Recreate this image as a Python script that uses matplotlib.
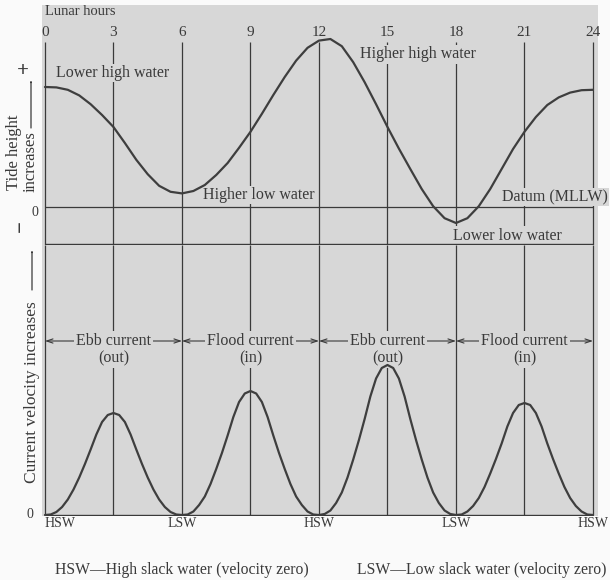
import matplotlib
matplotlib.use('Agg')
import matplotlib.pyplot as plt
from matplotlib.patches import FancyArrowPatch
import numpy as np

# lunar hours: half-hour grid for the tide, quarter-hour grid for the current
tide_hours = np.arange(0, 24.5, 0.5)
current_hours = np.arange(0, 24.25, 0.25)

# tide height above datum (MLLW), every half hour
tide_height = [3.00, 2.99, 2.93, 2.79, 2.57, 2.30, 2.00, 1.60, 1.18, 0.82,
               0.53, 0.38, 0.34, 0.40, 0.55, 0.80, 1.10, 1.48, 1.88, 2.33,
               2.80, 3.25, 3.66, 3.98, 4.16, 4.20, 4.02, 3.62, 3.12, 2.57,
               2.00, 1.46, 0.95, 0.45, 0.02, -0.28, -0.40, -0.28, 0.02, 0.45,
               0.95, 1.45, 1.88, 2.25, 2.55, 2.74, 2.86, 2.92, 2.93]

# current speed (no direction), every quarter hour
current_speed = [
    # ebb, hours 0-6
    0.00, 0.01, 0.06, 0.16, 0.31, 0.51, 0.75, 1.02, 1.31, 1.61, 1.86, 2.00, 2.04,
    2.00, 1.86, 1.61, 1.31, 1.02, 0.75, 0.51, 0.31, 0.16, 0.06, 0.01, 0.00,
    # flood, hours 6-12
    0.01, 0.07, 0.20, 0.37, 0.62, 0.92, 1.24, 1.59, 1.96, 2.26, 2.43, 2.48,
    2.43, 2.26, 1.96, 1.59, 1.24, 0.92, 0.62, 0.37, 0.20, 0.07, 0.01, 0.00,
    # ebb, hours 12-18
    0.02, 0.09, 0.24, 0.45, 0.75, 1.11, 1.50, 1.92, 2.37, 2.73, 2.94, 3.00,
    2.94, 2.73, 2.37, 1.92, 1.50, 1.11, 0.75, 0.45, 0.24, 0.09, 0.02, 0.00,
    # flood, hours 18-24
    0.01, 0.07, 0.18, 0.34, 0.56, 0.83, 1.12, 1.43, 1.77, 2.04, 2.20, 2.24,
    2.20, 2.04, 1.77, 1.43, 1.12, 0.83, 0.56, 0.34, 0.18, 0.07, 0.01, 0.00,
]

hour_ticks = [0, 3, 6, 9, 12, 15, 18, 21, 24]
slack_hours = [0, 6, 12, 18, 24]
slack_labels = ['HSW', 'LSW', 'HSW', 'LSW', 'HSW']
phase_names = ['Ebb current', 'Flood current', 'Ebb current', 'Flood current']
phase_dirs = ['(out)', '(in)', '(out)', '(in)']

W, H = 610, 580
BG = '#d7d7d7'
INK = '#3a3a3a'
plt.rcParams['font.family'] = 'Liberation Serif'

fig = plt.figure(figsize=(6.1, 5.8), dpi=100)
fig.patch.set_facecolor('#fafafa')


def fx(px):
    return px / W


def fy(py):
    return 1 - py / H


ax_top = fig.add_axes([fx(42), fy(245), 556 / W, 240 / H])
ax_bot = fig.add_axes([fx(42), fy(516), 556 / W, 271 / H])
for ax in (ax_top, ax_bot):
    ax.set_facecolor(BG)
    ax.set_xticks([])
    ax.set_yticks([])
    for s in ax.spines.values():
        s.set_visible(False)
    ax.set_xlim(-0.13, 24.22)

ax_top.set_ylim(-0.95, 5.05)
ax_bot.set_ylim(-0.02, 5.4)

curve_kw = dict(color='#3e3e3e', lw=1.6, zorder=4, solid_joinstyle='round',
                solid_capstyle='round')

# === tide panel ===
ax_top.vlines(hour_ticks, -0.95, 4.12, color=INK, lw=0.9, zorder=1)
ax_top.hlines([0], 0, 24, color=INK, lw=0.9, zorder=3)
ax_top.hlines([-0.93], 0, 24, color=INK, lw=1.0, zorder=3)
ax_top.plot(tide_hours, tide_height, **curve_kw)

for h in hour_ticks:
    ax_top.text(h, 4.35, str(h), ha='center', va='center', fontsize=11, color=INK)
ax_top.text(0, 4.88, 'Lunar hours', ha='left', va='center', fontsize=10.5, color=INK)

box = dict(facecolor=BG, edgecolor='none', pad=1.0)
label_kw = dict(fontsize=11.5, color=INK, va='center', ha='left', zorder=2, bbox=box)
ax_top.text(0.5, 3.35, 'Lower high water', **label_kw)
ax_top.text(13.8, 3.82, 'Higher high water', **label_kw)
ax_top.text(6.9, 0.30, 'Higher low water', **label_kw)
ax_top.text(20.0, 0.25, 'Datum (MLLW)', clip_on=False, **label_kw)
ax_top.text(17.85, -0.72, 'Lower low water', **label_kw)

# === current panel ===
ax_bot.vlines(hour_ticks, 0, 5.4, color=INK, lw=0.9, zorder=1)
ax_bot.hlines([0], 0, 24, color=INK, lw=1.0, zorder=3)
ax_bot.plot(current_hours, current_speed, **curve_kw)

for i, (name, direction) in enumerate(zip(phase_names, phase_dirs)):
    x0, x1 = slack_hours[i], slack_hours[i + 1]
    ax_bot.annotate('', xy=(x0, 3.48), xytext=(x1, 3.48),
                    arrowprops=dict(arrowstyle='<->,head_length=0.45,head_width=0.15',
                                    color=INK, lw=0.8, shrinkA=0, shrinkB=0),
                    zorder=2)
    mid = (x0 + x1) / 2
    ax_bot.text(mid, 3.48, name, ha='center', va='center', fontsize=11.5, color=INK,
                zorder=2.5, bbox=dict(facecolor=BG, edgecolor='none', pad=1.5))
    ax_bot.text(mid, 3.13, direction, ha='center', va='center', fontsize=11.5, color=INK,
                zorder=2.5, bbox=dict(facecolor=BG, edgecolor='none', pad=1.0))

for h, lab in zip(slack_hours, slack_labels):
    ha = 'left' if h == 0 else 'center'
    ax_bot.text(h, -0.17, lab, ha=ha, va='center', fontsize=10, color=INK, clip_on=False)

# === left side labels ===
fig.text(fx(23), fy(71), '+', ha='center', va='center', fontsize=15, color=INK,
         fontweight='bold')
fig.text(fx(21), fy(226), '\u2212', ha='center', va='center', fontsize=15, color=INK,
         rotation=90, fontweight='bold')
fig.text(fx(14), fy(152), 'Tide height', rotation=90, ha='center', va='center',
         fontsize=12, color=INK)
fig.text(fx(31), fy(162), 'increases', rotation=90, ha='center', va='center',
         fontsize=12, color=INK)
fig.text(fx(35), fy(213), '0', ha='center', va='center', fontsize=10, color=INK)
fig.text(fx(32), fy(392), 'Current velocity increases', rotation=90, ha='center',
         va='center', fontsize=12.5, color=INK)
fig.text(fx(30), fy(515), '0', ha='center', va='center', fontsize=10, color=INK)

arrow_kw = dict(arrowstyle='-|>,head_length=0.5,head_width=0.18', color=INK, lw=0.9,
                shrinkA=0, shrinkB=0, transform=fig.transFigure)
fig.add_artist(FancyArrowPatch((fx(31), fy(128)), (fx(31), fy(80)), **arrow_kw))
fig.add_artist(FancyArrowPatch((fx(32), fy(290)), (fx(32), fy(250)), **arrow_kw))

# === footnotes ===
fig.text(fx(182), fy(570), 'HSW\u2014High slack water (velocity zero)', ha='center',
         va='center', fontsize=11.3, color=INK)
fig.text(fx(482), fy(570), 'LSW\u2014Low slack water (velocity zero)', ha='center',
         va='center', fontsize=11.3, color=INK)

fig.savefig('out.png', dpi=100, facecolor=fig.get_facecolor())
